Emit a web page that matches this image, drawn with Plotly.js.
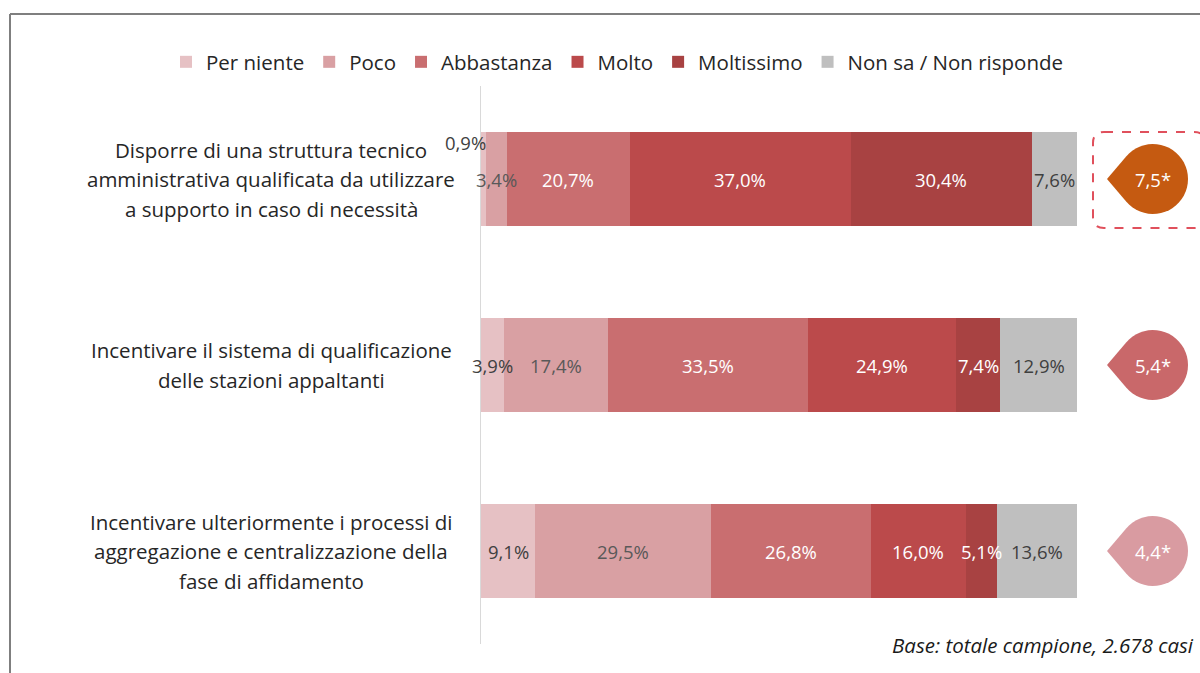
<!DOCTYPE html>
<html><head><meta charset="utf-8">
<script src="https://cdn.plot.ly/plotly-3.0.1.min.js"></script>
<style>html,body{margin:0;padding:0;background:#fff;}#chart{width:1200px;height:673px;}</style>
</head><body><div id="chart"></div>
<script>
// ---- data ----
const categories = [
  'Disporre di una struttura tecnico<br>amministrativa qualificata da utilizzare<br>a supporto in caso di necessità',
  'Incentivare il sistema di qualificazione<br>delle stazioni appaltanti',
  'Incentivare ulteriormente i processi di<br>aggregazione e centralizzazione della<br>fase di affidamento'
];
const seriesNames = ['Per niente', 'Poco', 'Abbastanza', 'Molto', 'Moltissimo', 'Non sa / Non risponde'];
const perNiente  = [0.9, 3.9, 9.1];
const poco       = [3.4, 17.4, 29.5];
const abbastanza = [20.7, 33.5, 26.8];
const molto      = [37.0, 24.9, 16.0];
const moltissimo = [30.4, 7.4, 5.1];
const nonSa      = [7.6, 12.9, 13.6];
const scores     = [7.5, 5.4, 4.4];
const baseNote   = 'Base: totale campione, 2.678 casi';

// ---- styles ----
const seriesValues = [perNiente, poco, abbastanza, molto, moltissimo, nonSa];
const seriesColors = ['#e6c1c4', '#d9a0a3', '#c96e70', '#bb4a4b', '#a84242', '#bfbfbf'];
const labelColors  = ['#404040', '#595959', '#ffffff', '#ffffff', '#ffffff', '#404040'];
const badgeColors  = ['#c55a11', '#c9686a', '#d99ba1'];
const FONT = 'Open Sans, sans-serif';

const W = 1200, H = 673, L = 481, R = 123, T = 86, B = 29;
const PW = W - L - R, PH = H - T - B;
const px2x = p => (p - L) / PW;
const px2y = p => (H - B - p) / PH;
const fmt = v => v.toFixed(1).replace('.', ',');

const traces = seriesNames.map((name, i) => ({
  type: 'bar', orientation: 'h', name: name,
  x: seriesValues[i], y: categories.map((c, j) => j),
  marker: {color: seriesColors[i], line: {width: 0}},
  hoverinfo: 'x+name'
}));

const annotations = [];
categories.forEach((c, j) => {
  let cum = 0;
  seriesValues.forEach((vals, i) => {
    const v = vals[j];
    const small = v < 2;
    annotations.push({
      xref: 'x', yref: 'y', x: cum + v / 2, y: j,
      text: fmt(v) + '%', showarrow: false,
      xshift: small ? -18 : 0, yshift: small ? 37 : 0,
      font: {family: FONT, size: 18.5, color: small ? '#404040' : labelColors[i]}
    });
    cum += v;
  });
  const lines = c.split('<br>');
  lines.forEach((ln, k) => {
    annotations.push({
      xref: 'paper', yref: 'y', x: px2x(271), y: j, xanchor: 'center',
      yshift: ((lines.length - 1) / 2 - k) * 29.5,
      text: ln, showarrow: false,
      font: {family: FONT, size: 20.5, color: '#262626'}
    });
  });
  annotations.push({
    xref: 'paper', yref: 'y', x: px2x(1153), y: j, xanchor: 'center',
    text: fmt(scores[j]) + '*', showarrow: false,
    font: {family: FONT, size: 18.5, color: '#ffffff'}
  });
});
annotations.push({
  xref: 'paper', yref: 'paper', x: px2x(1196), y: px2y(645), xanchor: 'right', yanchor: 'middle',
  text: baseNote, showarrow: false,
  font: {family: FONT, size: 20.5, color: '#1a1a1a', style: 'italic'}
});

function dropPath(r, d) {
  const th = Math.acos(r / d);
  const a0 = Math.PI - th, a1 = -Math.PI + th;
  let p = 'M' + (-d) + ',0';
  const n = 40;
  for (let k = 0; k <= n; k++) {
    const a = a0 + (a1 - a0) * k / n;
    p += ' L' + (r * Math.cos(a)).toFixed(2) + ',' + (r * Math.sin(a)).toFixed(2);
  }
  return p + ' Z';
}
function roundRect(x0, y0, x1, y1, rr) {
  return `M${x0 + rr},${y1} L${x1 - rr},${y1} Q${x1},${y1} ${x1},${y1 - rr} L${x1},${y0 + rr} Q${x1},${y0} ${x1 - rr},${y0} L${x0 + rr},${y0} Q${x0},${y0} ${x0},${y0 + rr} L${x0},${y1 - rr} Q${x0},${y1} ${x0 + rr},${y1} Z`;
}

const shapes = [];
scores.forEach((s, j) => {
  shapes.push({
    type: 'path', xref: 'paper', yref: 'y', xsizemode: 'pixel', ysizemode: 'pixel',
    xanchor: px2x(1153), yanchor: j, path: dropPath(35, 46),
    fillcolor: badgeColors[j], line: {width: 0}
  });
});
shapes.push({
  type: 'path', xref: 'paper', yref: 'y', xsizemode: 'pixel', ysizemode: 'pixel',
  xanchor: px2x(1153), yanchor: 0, path: roundRect(-60, -49, 52, 47, 11),
  fillcolor: 'rgba(0,0,0,0)', line: {color: '#e0505c', width: 2, dash: 'dash'}
});
shapes.push({type: 'line', xref: 'paper', yref: 'paper', x0: px2x(10), x1: px2x(1205), y0: px2y(14), y1: px2y(14), line: {color: '#7f7f7f', width: 2}});
shapes.push({type: 'line', xref: 'paper', yref: 'paper', x0: px2x(10), x1: px2x(10), y0: px2y(14), y1: px2y(680), line: {color: '#7f7f7f', width: 2}});

const layout = {
  width: W, height: H,
  margin: {l: L, r: R, t: T, b: B, autoexpand: false},
  paper_bgcolor: '#ffffff', plot_bgcolor: '#ffffff',
  barmode: 'stack', bargap: 0.49,
  font: {family: FONT, color: '#262626'},
  showlegend: true,
  legend: {
    orientation: 'h', x: px2x(166), xanchor: 'left', y: px2y(62), yanchor: 'middle',
    font: {family: FONT, size: 20.5, color: '#262626'}, traceorder: 'normal', bgcolor: 'rgba(0,0,0,0)'
  },
  xaxis: {range: [0, 100], visible: false, fixedrange: true},
  yaxis: {
    range: [categories.length - 0.5, -0.5], showticklabels: false, ticks: '',
    showgrid: false, zeroline: false, showline: true, linecolor: '#d9d9d9', linewidth: 1, fixedrange: true
  },
  annotations: annotations,
  shapes: shapes
};

Plotly.newPlot('chart', traces, layout, {displayModeBar: false, staticPlot: true});
</script>
</body></html>
